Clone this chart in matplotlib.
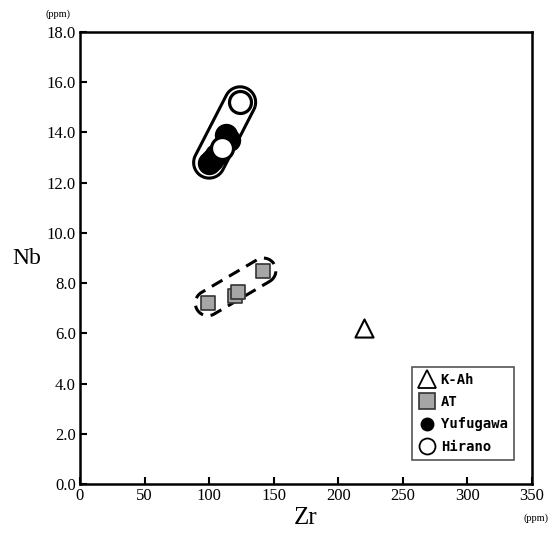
import numpy as np
import matplotlib
matplotlib.use('Agg')
import matplotlib.pyplot as plt
from matplotlib.path import Path
from matplotlib.patches import PathPatch
from matplotlib.lines import Line2D

# data
kah_zr = [220]
kah_nb = [6.2]

at_zr = [99, 120, 122, 142]
at_nb = [7.2, 7.5, 7.65, 8.5]

yufu_zr = [100, 102, 105, 113, 115]
yufu_nb = [12.8, 12.9, 13.1, 13.9, 13.7]

hirano_zr = [110, 124]
hirano_nb = [13.4, 15.2]

x_ticks = [0, 50, 100, 150, 200, 250, 300, 350]
y_ticks = [0, 2, 4, 6, 8, 10, 12, 14, 16, 18]

serif = 'Liberation Serif'
mono = 'DejaVu Sans Mono'

fig = plt.figure(figsize=(5.54, 5.39), dpi=100)
ax = fig.add_axes([0.1444, 0.102, 0.8159, 0.8386])
ax.set_xlim(0, 350)
ax.set_ylim(0, 18)


def capsule(ax, xs, ys, radius_px, **kw):
    # rounded outline around a group, built in display space from its end points
    pts = ax.transData.transform(np.column_stack([xs, ys]))
    i0 = np.argmin(pts[:, 0] + pts[:, 1])
    i1 = np.argmax(pts[:, 0] + pts[:, 1])
    p0, p1 = pts[i0], pts[i1]
    d = p1 - p0
    ang = np.arctan2(d[1], d[0])
    t1 = np.linspace(ang - np.pi / 2, ang + np.pi / 2, 40)
    t0 = np.linspace(ang + np.pi / 2, ang + 3 * np.pi / 2, 40)
    arc1 = p1 + radius_px * np.column_stack([np.cos(t1), np.sin(t1)])
    arc0 = p0 + radius_px * np.column_stack([np.cos(t0), np.sin(t0)])
    verts = np.vstack([arc1, arc0, arc1[:1]])
    data_verts = ax.transData.inverted().transform(verts)
    ax.add_patch(PathPatch(Path(data_verts), fill=False, **kw))


fig.canvas.draw()
capsule(ax, yufu_zr + hirano_zr, yufu_nb + hirano_nb, 15.5, lw=2.2, ec='black', zorder=2)
capsule(ax, at_zr, at_nb, 12.5, lw=2.2, ec='black', ls=(0, (4, 2.5)), zorder=2)

ax.scatter(kah_zr, kah_nb, marker='^', s=170, facecolor='white', edgecolor='black',
           linewidth=1.5, zorder=3)
ax.scatter(at_zr, at_nb, marker='s', s=115, facecolor='#a6a6a6', edgecolor='#333333',
           linewidth=1.2, zorder=3)
ax.scatter(yufu_zr, yufu_nb, marker='o', s=250, facecolor='black', edgecolor='black',
           zorder=3)
ax.scatter(hirano_zr, hirano_nb, marker='o', s=250, facecolor='white', edgecolor='black',
           linewidth=2.3, zorder=4)

ax.set_xticks(x_ticks)
ax.set_yticks(y_ticks)
ax.set_xticklabels([str(v) for v in x_ticks], fontfamily=serif, fontsize=12)
ax.set_yticklabels(['%.1f' % v for v in y_ticks], fontfamily=serif, fontsize=12)
ax.tick_params(direction='in', length=5, width=1.5, pad=3)
for s in ax.spines.values():
    s.set_linewidth(1.8)

ax.set_xlabel('Zr', fontfamily=serif, fontsize=18, labelpad=2)
ax.set_ylabel('Nb', fontfamily=serif, fontsize=17, rotation=0, labelpad=14, va='center')
fig.text(0.105, 0.965, '(ppm)', fontfamily=serif, fontsize=7.5, ha='center', va='bottom')
fig.text(0.99, 0.03, '(ppm)', fontfamily=serif, fontsize=7.5, ha='right', va='bottom')

handles = [
    Line2D([], [], ls='none', marker='^', ms=13, mfc='white', mec='black', mew=1.3),
    Line2D([], [], ls='none', marker='s', ms=11, mfc='#a6a6a6', mec='#333333', mew=1.2),
    Line2D([], [], ls='none', marker='o', ms=9, mfc='black', mec='black'),
    Line2D([], [], ls='none', marker='o', ms=11.5, mfc='white', mec='black', mew=1.3),
]
labels = ['K-Ah', 'AT', 'Yufugawa', 'Hirano']
leg = ax.legend(handles, labels, loc='lower right', bbox_to_anchor=(0.960, 0.053),
                borderaxespad=0, fancybox=False, edgecolor='#555555', framealpha=1,
                handletextpad=0.35, borderpad=0.45, labelspacing=0.6, handlelength=1.3,
                prop={'family': mono, 'size': 10, 'weight': 'bold'})
leg.get_frame().set_linewidth(1.2)

fig.savefig('out.png', dpi=100)
